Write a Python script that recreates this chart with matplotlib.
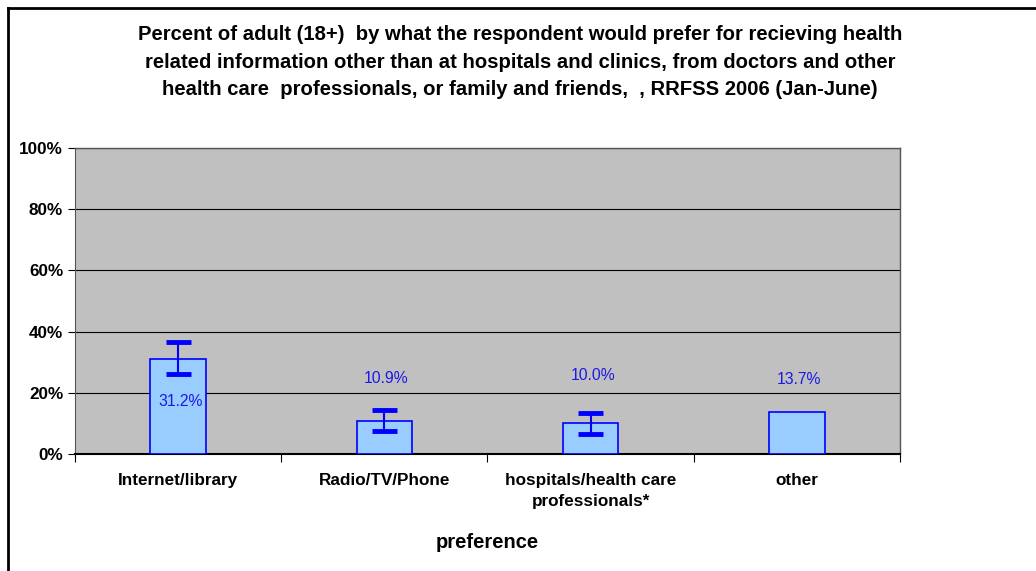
import matplotlib.pyplot as plt
from matplotlib.lines import Line2D
from matplotlib.ticker import FixedLocator, PercentFormatter

categories = ['Internet/library', 'Radio/TV/Phone', 'hospitals/health care\nprofessionals*', 'other']
values = [31.2, 10.9, 10.0, 13.7]
err_low = [26.0, 7.5, 6.5, None]
err_high = [36.5, 14.5, 13.5, None]
label_y = [17.3, 24.8, 25.5, 24.2]

plt.rcParams['font.family'] = ['Liberation Sans', 'DejaVu Sans']

fig = plt.figure(figsize=(10.36, 5.71), dpi=100)
ax = fig.add_axes([0.0724, 0.2049, 0.7963, 0.5359])
ax.set_facecolor('#C0C0C0')

x = list(range(len(categories)))
ax.bar(x, values, width=0.27, color='#99CCFF', edgecolor='#0000FF', linewidth=1.2, zorder=3)
for i in x:
    if err_low[i] is not None:
        ax.plot([i, i], [err_low[i], err_high[i]], color='#0000FF', lw=1.5, zorder=4)
        for yv in (err_low[i], err_high[i]):
            ax.plot([i - 0.06, i + 0.06], [yv, yv], color='#0000FF', lw=3.5, zorder=4,
                    solid_capstyle='butt')
    ax.text(i + 0.01, label_y[i], f'{values[i]:.1f}%', color='#1A1AE6', fontsize=11.3,
            ha='center', va='center', zorder=5)

ax.set_xlim(-0.5, len(categories) - 0.5)
ax.set_ylim(0, 100)
ax.yaxis.set_major_locator(FixedLocator([0, 20, 40, 60, 80, 100]))
ax.yaxis.set_major_formatter(PercentFormatter(decimals=0))
ax.grid(axis='y', color='black', lw=0.8, zorder=1)
ax.set_axisbelow(True)

ax.set_xticks(x)
ax.set_xticklabels(categories, fontsize=12.3, fontweight='bold', linespacing=1.5)
ax.tick_params(axis='x', length=0, pad=14)
ax.set_xticks([i + 0.5 for i in range(-1, len(categories))], minor=True)
ax.tick_params(axis='x', which='minor', length=6, direction='out', width=0.8)
ax.tick_params(axis='y', labelsize=12.3, length=5, width=0.8)
for lab in ax.get_yticklabels():
    lab.set_fontweight('bold')

for s in ['top', 'right']:
    ax.spines[s].set_color('#555555')
    ax.spines[s].set_linewidth(1)
ax.spines['left'].set_color('#555555')
ax.spines['bottom'].set_color('black')
ax.spines['bottom'].set_linewidth(1.5)

ax.set_xlabel('preference', fontsize=14.5, fontweight='bold', labelpad=17)

fig.text(0.502, 0.891,
         'Percent of adult (18+)  by what the respondent would prefer for recieving health\n'
         'related information other than at hospitals and clinics, from doctors and other\n'
         'health care  professionals, or family and friends,  , RRFSS 2006 (Jan-June)',
         ha='center', va='center', fontsize=14.6, fontweight='bold', linespacing=1.55)

fig.add_artist(Line2D([0.0077, 1.0], [0.986, 0.986], color='black', lw=2, transform=fig.transFigure))
fig.add_artist(Line2D([0.0077, 0.0077], [0.0, 0.986], color='black', lw=2, transform=fig.transFigure))

fig.savefig('out.png', dpi=100)
